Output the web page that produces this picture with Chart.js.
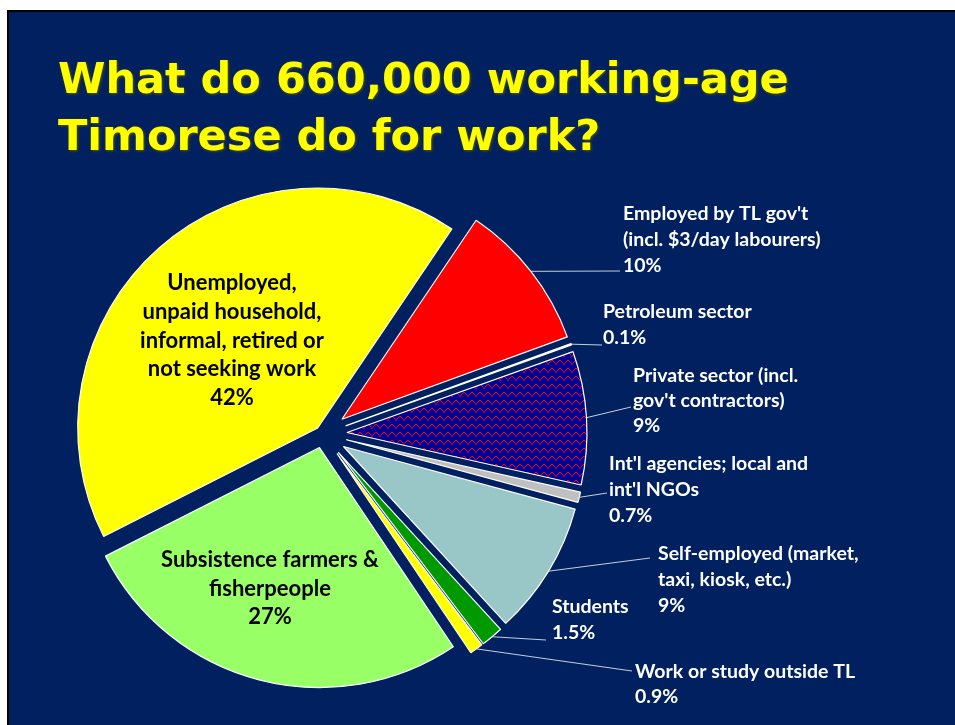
<!DOCTYPE html>
<html>
<head>
<meta charset="utf-8">
<script src="https://cdn.jsdelivr.net/npm/chart.js@4.4.1/dist/chart.umd.min.js"></script>
<style>
  body { margin: 0; background: #fff; }
  #chart { display: block; }
</style>
</head>
<body>
<canvas id="chart" width="955" height="725"></canvas>
<script>
// workforce breakdown, clockwise from the government slice
const categories = [
  "Employed by TL gov't (incl. $3/day labourers)",
  "Petroleum sector",
  "Private sector (incl. gov't contractors)",
  "Int'l agencies; local and int'l NGOs",
  "Self-employed (market, taxi, kiosk, etc.)",
  "Students",
  "Work or study outside TL",
  "Subsistence farmers & fisherpeople",
  "Unemployed, unpaid household, informal, retired or not seeking work"
];
const shares = [10, 0.1, 9, 0.7, 9, 1.5, 0.9, 27, 42];
const labelLines = [
  ["Employed by TL gov't", "(incl. $3/day labourers)"],
  ["Petroleum sector"],
  ["Private sector (incl.", "gov't contractors)"],
  ["Int'l agencies; local and", "int'l NGOs"],
  ["Self-employed (market,", "taxi, kiosk, etc.)"],
  ["Students"],
  ["Work or study outside TL"],
  ["Subsistence farmers &", "fisherpeople"],
  ["Unemployed,", "unpaid household,", "informal, retired or", "not seeking work"]
];
const titleLines = ["What do 660,000 working-age", "Timorese do for work?"];

const NAVY = '#012060';
const sliceColors = ['#ff0000', '#ffffff', null, '#c0c0c0', '#99c7c7', '#009a00', '#ffff00', '#99ff66', '#ffff00'];
const explode = [24, 24, 24, 24, 24, 24, 24, 14, 8];

// label placement: outside labels have a leader to (lx, ly)
const labelPos = [
  { x: 623, y: 220, lx: 620, ly: 271, lh: 26 },
  { x: 603, y: 318, lx: 602, ly: 345, lh: 26 },
  { x: 633, y: 382, lx: 631, ly: 407, lh: 25 },
  { x: 609, y: 470, lx: 607, ly: 493, lh: 26 },
  { x: 658, y: 560, lx: 650, ly: 558, lh: 26 },
  { x: 552, y: 613, lx: 546, ly: 640, lh: 26 },
  { x: 635, y: 678, lx: 632, ly: 671, lh: 25 },
  { x: 270, y: 567, inside: true, lh: 28.5 },
  { x: 232, y: 290, inside: true, lh: 28.8 }
];

// navy lattice fill for the private sector slice
function makePattern() {
  const tile = [
    'R......R',
    '.R....R.',
    '..R..R..',
    '...DD...',
    '...DD...',
    '........',
    '........',
    '........'
  ];
  const c = document.createElement('canvas');
  c.width = 8; c.height = 8;
  const g = c.getContext('2d');
  g.fillStyle = '#000096';
  g.fillRect(0, 0, 8, 8);
  tile.forEach((row, y) => {
    [...row].forEach((ch, x) => {
      if (ch === 'R') { g.fillStyle = '#ff0000'; g.fillRect(x, y, 1, 1); }
      if (ch === 'D') { g.fillStyle = '#a00040'; g.fillRect(x, y, 1, 1); }
    });
  });
  return document.getElementById('chart').getContext('2d').createPattern(c, 'repeat');
}
sliceColors[2] = makePattern();

const slidePlugin = {
  id: 'slide',
  beforeDraw(chart) {
    const ctx = chart.ctx;
    ctx.save();
    ctx.fillStyle = '#ffffff';
    ctx.fillRect(0, 0, chart.width, chart.height);
    ctx.fillStyle = '#000000';
    ctx.fillRect(7, 10, chart.width, chart.height);
    ctx.fillStyle = NAVY;
    ctx.fillRect(9, 12, chart.width, chart.height);

    ctx.font = 'bold 43px "DejaVu Sans"';
    ctx.textAlign = 'left';
    ctx.textBaseline = 'alphabetic';
    ctx.shadowColor = 'rgba(90,90,0,0.95)';
    ctx.shadowBlur = 3;
    ctx.shadowOffsetX = 1;
    ctx.shadowOffsetY = 1;
    ctx.fillStyle = '#ffff00';
    titleLines.forEach((t, i) => ctx.fillText(t, 58, 93 + i * 57));
    ctx.restore();
  }
};

// push every slice out along its own mid-angle
const explodePlugin = {
  id: 'explode',
  afterDatasetUpdate(chart, args) {
    const arcs = chart.getDatasetMeta(args.index).data;
    arcs.forEach((arc, i) => {
      const mid = (arc.startAngle + arc.endAngle) / 2;
      arc.x += Math.cos(mid) * explode[i];
      arc.y += Math.sin(mid) * explode[i];
    });
  }
};

const labelPlugin = {
  id: 'sliceLabels',
  afterDatasetsDraw(chart) {
    const ctx = chart.ctx;
    const arcs = chart.getDatasetMeta(0).data;
    ctx.save();
    ctx.textAlign = 'left';
    ctx.textBaseline = 'alphabetic';
    arcs.forEach((arc, i) => {
      const p = labelPos[i];
      const lines = labelLines[i].concat([shares[i] + '%']);
      if (p.inside) {
        ctx.font = 'bold 22px Lato';
        ctx.fillStyle = '#000000';
        ctx.textAlign = 'center';
        lines.forEach((t, k) => ctx.fillText(t, p.x, p.y + k * p.lh));
        ctx.textAlign = 'left';
        return;
      }
      const mid = (arc.startAngle + arc.endAngle) / 2;
      const sx = arc.x + Math.cos(mid) * arc.outerRadius;
      const sy = arc.y + Math.sin(mid) * arc.outerRadius;
      ctx.strokeStyle = 'rgba(235,235,235,0.85)';
      ctx.lineWidth = 1;
      ctx.beginPath();
      ctx.moveTo(sx, sy);
      ctx.lineTo(p.lx, p.ly);
      ctx.stroke();
      ctx.font = 'bold 19.5px Lato';
      ctx.fillStyle = '#ffffff';
      lines.forEach((t, k) => ctx.fillText(t, p.x, p.y + k * p.lh));
    });
    ctx.restore();
  }
};

new Chart(document.getElementById('chart'), {
  type: 'pie',
  data: {
    labels: categories,
    datasets: [{
      data: shares,
      backgroundColor: sliceColors,
      borderColor: '#ffffff',
      borderWidth: 1.2,
      radius: 240,
      clip: false
    }]
  },
  options: {
    responsive: false,
    animation: false,
    rotation: 34,
    layout: { padding: { left: 20, right: 329, top: 163, bottom: 20 } },
    plugins: {
      legend: { display: false },
      tooltip: { enabled: false }
    }
  },
  plugins: [slidePlugin, explodePlugin, labelPlugin]
});
</script>
</body>
</html>
